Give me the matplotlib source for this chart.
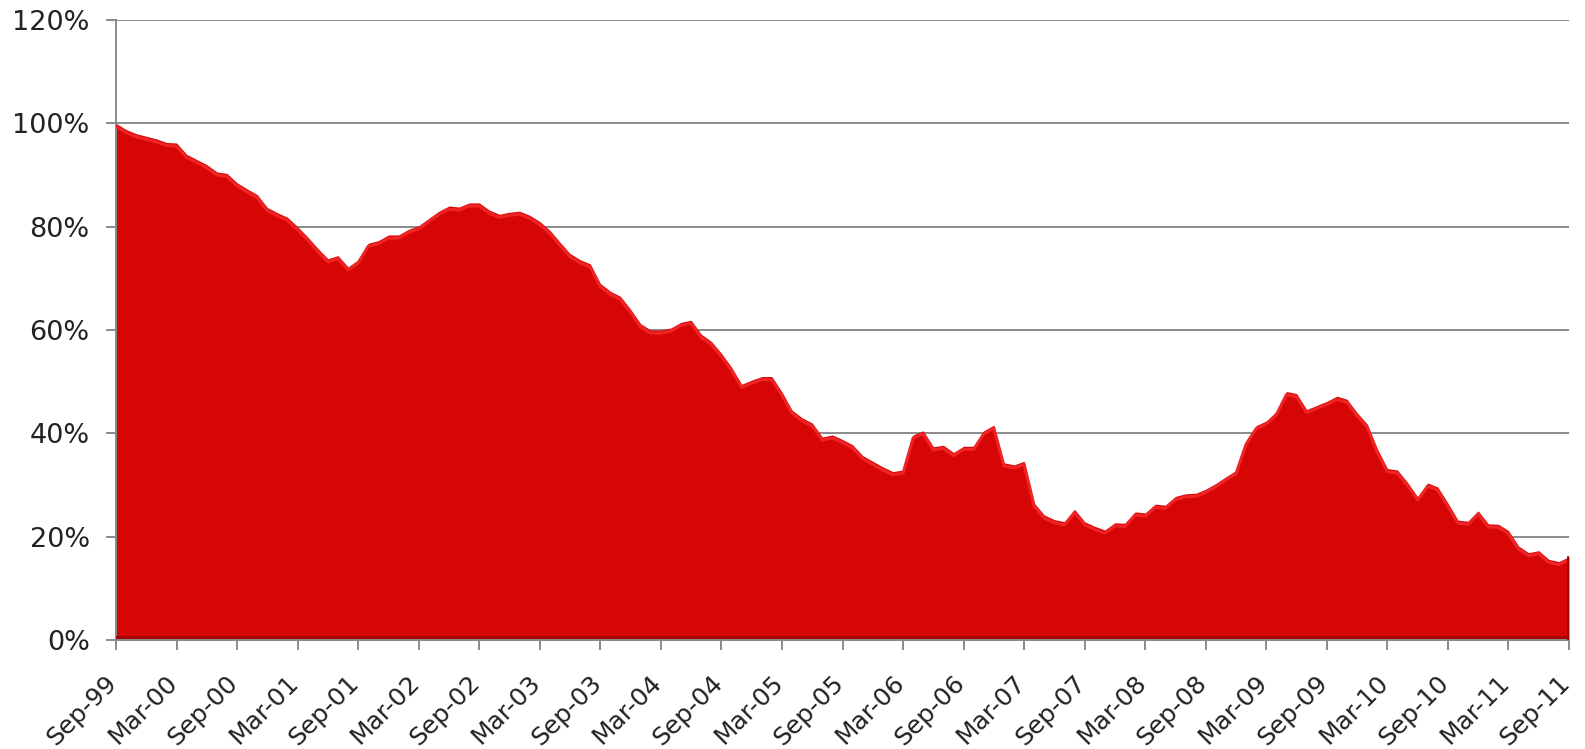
import numpy as np
import matplotlib
matplotlib.use("Agg")
import matplotlib.pyplot as plt
import matplotlib.transforms as mtransforms
from matplotlib.ticker import FuncFormatter

# monthly values (%), Sep-99 .. Sep-11
values = [
    100.0, 98.8, 98.0, 97.5, 97.0, 96.3, 96.2, 94.0, 93.0, 92.0,
    90.6, 90.3, 88.5, 87.3, 86.2, 83.7, 82.7, 81.8, 80.0, 78.0,
    75.8, 73.8, 74.4, 72.2, 73.6, 76.8, 77.3, 78.4, 78.4, 79.5,
    80.2, 81.6, 83.0, 84.0, 83.8, 84.6, 84.6, 83.2, 82.4, 82.8,
    83.0, 82.2, 81.0, 79.3, 77.0, 74.8, 73.6, 72.8, 69.0, 67.5,
    66.5, 64.0, 61.2, 60.0, 60.0, 60.4, 61.5, 61.9, 59.2, 57.8,
    55.5, 52.8, 49.5, 50.3, 51.0, 51.0, 48.0, 44.5, 43.0, 42.0,
    39.3, 39.7, 38.8, 37.8, 35.7, 34.6, 33.5, 32.6, 32.9, 39.7,
    40.5, 37.4, 37.7, 36.3, 37.5, 37.5, 40.5, 41.6, 34.3, 33.9,
    34.6, 26.5, 24.2, 23.3, 22.9, 25.3, 22.9, 22.0, 21.3, 22.7,
    22.6, 24.8, 24.6, 26.3, 26.1, 27.8, 28.3, 28.4, 29.2, 30.3,
    31.6, 32.8, 38.5, 41.5, 42.4, 44.2, 48.1, 47.7, 44.6, 45.4,
    46.2, 47.2, 46.6, 44.0, 41.8, 37.0, 33.2, 32.9, 30.5, 27.7,
    30.4, 29.6, 26.5, 23.2, 23.0, 25.0, 22.5, 22.4, 21.2, 18.2,
    16.9, 17.3, 15.6, 15.2, 16.1,
]
tick_labels = [
    "Sep-99", "Mar-00", "Sep-00", "Mar-01", "Sep-01", "Mar-02", "Sep-02",
    "Mar-03", "Sep-03", "Mar-04", "Sep-04", "Mar-05", "Sep-05", "Mar-06",
    "Sep-06", "Mar-07", "Sep-07", "Mar-08", "Sep-08", "Mar-09", "Sep-09",
    "Mar-10", "Sep-10", "Mar-11", "Sep-11",
]
y_ticks = [0, 20, 40, 60, 80, 100, 120]

months = np.arange(len(values))
vals = np.array(values)

fig = plt.figure(figsize=(15.85, 7.49), dpi=100)
ax = fig.add_axes([0.0732, 0.1455, 0.9167, 0.8278])

grey = "#8a8a8a"
ax.set_axisbelow(True)
ax.yaxis.grid(True, color=grey, linewidth=1.4)

# area with a slightly lighter rim to mimic the bevel
ax.fill_between(months, 0, vals, color="#d60606", linewidth=0, zorder=2)
ax.plot(months, vals - 0.6, color="#f02424", linewidth=2.2, zorder=3,
        solid_joinstyle="round")
ax.plot(months, np.full(len(months), 0.5), color="#a00404", linewidth=2,
        zorder=3)
ax.plot([months[-1] - 0.1] * 2, [0, vals[-1]], color="#9a0404",
        linewidth=2, zorder=3)

ax.set_xlim(0, len(values) - 1)
ax.set_ylim(0, 120)
ax.set_yticks(y_ticks)
ax.yaxis.set_major_formatter(FuncFormatter(lambda v, p: f"{v:.0f}%"))
ax.set_xticks(np.arange(0, len(values), 6))
ax.set_xticklabels(tick_labels, rotation=45, ha="right", va="top",
                   rotation_mode="anchor")

for side in ["top", "right"]:
    ax.spines[side].set_visible(False)
for side in ["left", "bottom"]:
    ax.spines[side].set_color(grey)
    ax.spines[side].set_linewidth(1.4)

ax.tick_params(axis="both", colors=grey, length=7, width=1.4,
               labelcolor="#222222")
ax.tick_params(axis="y", pad=12, labelsize=19.5)
ax.tick_params(axis="x", pad=6, labelsize=18)

# nudge the slanted month labels down and left
offset = mtransforms.ScaledTranslation(-8 / 72, -9 / 72, fig.dpi_scale_trans)
for lab in ax.get_xticklabels():
    lab.set_transform(lab.get_transform() + offset)

fig.savefig("out.png", dpi=100)
